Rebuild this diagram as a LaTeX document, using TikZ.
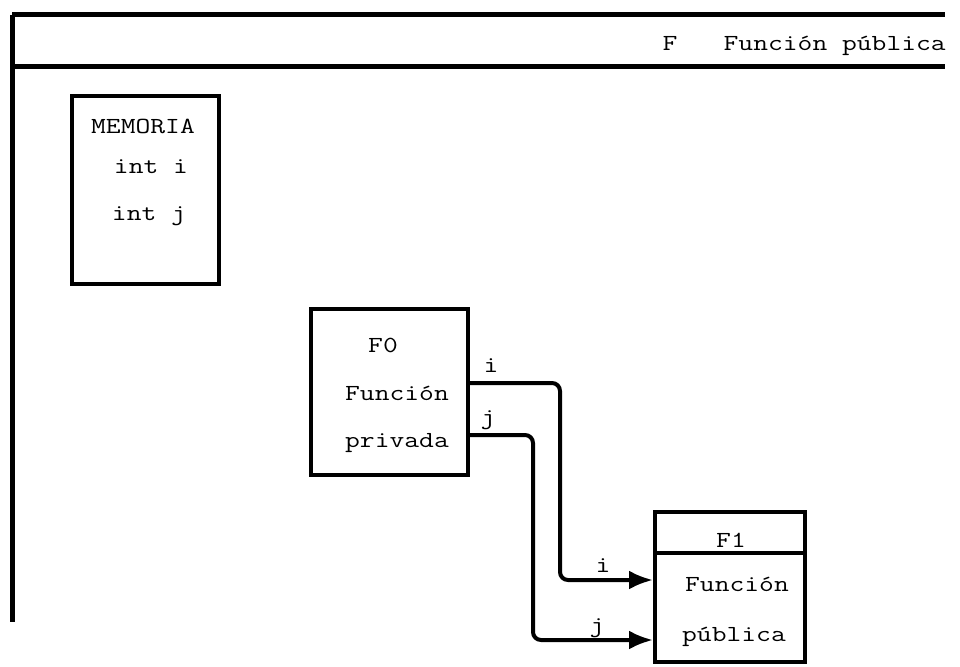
\documentclass[tikz,border=0pt]{standalone}
\usetikzlibrary{arrows.meta}
\tikzset{
  txt/.style={font=\ttfamily\fontsize{23}{23}\selectfont, inner sep=0pt, anchor=base, xscale=1.25},
  boxframe/.style={draw, line width=4pt, inner sep=0pt},
  heavy/.style={line width=5pt},
  conn/.style={line width=4pt, rounded corners=8pt, -{Latex[length=24pt,width=19pt]}},
}
\begin{document}
\begin{tikzpicture}[x=1pt,y=-1pt]
\useasboundingbox (0,0) rectangle (960,666);
% frame
\coordinate (tl) at (12,15);
\coordinate (tr) at (945,15);
\coordinate (ml) at (12,67);
\coordinate (mr) at (945,67);
\coordinate (bl) at (12,622);
\draw[heavy] (tl) -- (tr);
\draw[heavy] (ml) -- (mr);
\draw[heavy] (tl) -- (bl);
\node[txt] (ftitle) at (670,51) {F};
\node[txt, anchor=base east] (ftext) at (946,51) {Función pública};
% MEMORIA
\node[boxframe, minimum width=147pt, minimum height=188pt] (mem) at (145.5,190) {};
\node[txt] (memt) at (143,133) {MEMORIA};
\node[txt] (mi) at (151,173) {int i};
\node[txt] (mj) at (149,220) {int j};
% F0
\node[boxframe, minimum width=157pt, minimum height=166pt] (f0) at (389.5,392) {};
\node[txt] (f0t) at (383,352) {F0};
\node[txt] (f0a) at (397,400) {Función};
\node[txt] (f0b) at (397,447) {privada};
% F1
\node[boxframe, minimum width=150pt, minimum height=150pt] (f1) at (730,587) {};
\coordinate (dl) at (655,553);
\coordinate (dr) at (805,553);
\draw[line width=4pt] (f1.west |- dl) -- (f1.east |- dr);
\node[txt] (f1t) at (731,547) {F1};
\node[txt] (f1a) at (737,591) {Función};
\node[txt] (f1b) at (734,641) {pública};
% connectors
\coordinate (iy) at (0,383);
\coordinate (ix) at (560,0);
\coordinate (iy2) at (0,580);
\coordinate (jy) at (0,435);
\coordinate (jx) at (533,0);
\coordinate (jy2) at (0,640);
\draw[conn] (f0.east |- iy) -- (ix |- iy) -- (ix |- iy2) -- (f1.west |- iy2);
\draw[conn] (f0.east |- jy) -- (jx |- jy) -- (jx |- jy2) -- (f1.west |- jy2);
\node[txt] (li1) at (491,372) {i};
\node[txt] (lj1) at (488,424) {j};
\node[txt] (li2) at (603,572) {i};
\node[txt] (lj2) at (597,632) {j};
\end{tikzpicture}
\end{document}
